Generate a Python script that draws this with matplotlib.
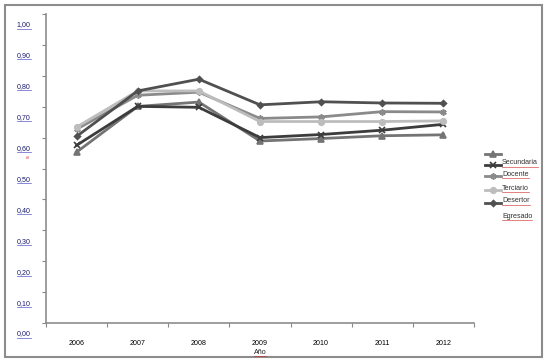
import matplotlib

matplotlib.use("Agg")
import matplotlib.pyplot as plt
import matplotlib.transforms as mtransforms
from matplotlib.lines import Line2D
from matplotlib.patches import Rectangle

plt.rcParams["font.family"] = ["Liberation Sans", "DejaVu Sans"]

years = ["2006", "2007", "2008", "2009", "2010", "2011", "2012"]
serie_blank = [0.553, 0.701, 0.715, 0.589, 0.597, 0.606, 0.609]
secundaria = [0.575, 0.701, 0.698, 0.600, 0.610, 0.624, 0.643]
docente = [0.627, 0.737, 0.747, 0.662, 0.667, 0.684, 0.683]
terciario = [0.634, 0.751, 0.751, 0.652, 0.652, 0.652, 0.654]
desertor = [0.604, 0.751, 0.789, 0.706, 0.716, 0.712, 0.711]
y_ticks = [0.0, 0.1, 0.2, 0.3, 0.4, 0.5, 0.6, 0.7, 0.8, 0.9, 1.0]
legend_labels = ["Secundaria", "Docente", "Terciario", "Desertor", "Egresado"]

# (values, color, marker, markersize)
SERIES = [
    (serie_blank, "#747474", "^", 4.5),
    (secundaria, "#3c3c3c", "x", 4.5),
    (docente, "#8a8a8a", (6, 2, 0), 4.5),
    (terciario, "#bdbdbd", "o", 4),
    (desertor, "#505050", "D", 3),
]
FS = 5.1

fig = plt.figure(figsize=(5.47, 3.62), dpi=100)
W, H = 547, 362
ax = fig.add_axes([46 / W, 1 - 323 / H, (474 - 46) / W, (323 - 14) / H])

x = list(range(len(years)))
for values, color, marker, ms in SERIES:
    ax.plot(x, values, color=color, lw=2.0, marker=marker, ms=ms, mfc=color, mec=color, mew=1.2)

ax.set_xlim(-0.5, len(years) - 0.5)
ax.set_ylim(0, 1.0)
ax.set_xticks([i - 0.5 for i in range(len(years) + 1)])
ax.set_xticklabels([])
ax.set_xticks(x, minor=True)
ax.set_xticklabels(years, minor=True, fontsize=FS)
ax.tick_params(axis="x", which="minor", length=0, pad=12)
ax.tick_params(axis="x", which="major", length=3, color="#888888", width=0.8)
ax.set_yticks(y_ticks)
ax.set_yticklabels([f"{v:.2f}".replace(".", ",") for v in y_ticks], fontsize=FS, color="#1c1c70")
ax.tick_params(axis="y", length=3, color="#888888", width=0.8, pad=8)
offset = mtransforms.ScaledTranslation(0, -10 / 100, fig.dpi_scale_trans)
for lab in ax.get_yticklabels():
    lab.set_transform(lab.get_transform() + offset)
for side in ("top", "right"):
    ax.spines[side].set_visible(False)
for side in ("left", "bottom"):
    ax.spines[side].set_color("#8c8c8c")
    ax.spines[side].set_linewidth(1.2)

fig.text(260 / W, 1 - 352 / H, "Año", fontsize=FS, ha="center", va="center", color="#222222")
fig.text(28 / W, 1 - 157 / H, "s", fontsize=4, rotation=90, ha="center", va="center", color="#d02020")

# legend drawn by hand to keep the original's offset labels
line_y = [154, 165, 176, 190, 203]
for (values, color, marker, ms), yy in zip(SERIES, line_y):
    fy = 1 - yy / H
    fig.add_artist(Line2D([485 / W, 493 / W, 501 / W], [fy, fy, fy], transform=fig.transFigure,
                          color=color, lw=2.0, marker=marker, ms=ms, mfc=color, mec=color,
                          mew=1.2, markevery=[1]))
label_y = [163, 174, 188, 201, 216]
texts = []
for lab, yy in zip(legend_labels, label_y):
    texts.append(fig.text(502 / W, 1 - yy / H, lab, fontsize=FS, ha="left", va="center", color="#333333"))

fig.add_artist(Rectangle((5 / W, 1 - 357 / H), 537 / W, 352 / H, transform=fig.transFigure,
                         fill=False, edgecolor="#8c8c8c", lw=1.5))

# spell-check style underlines
fig.canvas.draw()
renderer = fig.canvas.get_renderer()
inv = fig.transFigure.inverted()
for t, col in [(t, "#d02020") for t in texts] + [(fig.texts[0], "#d02020")] + [(t, "#3030c0") for t in ax.get_yticklabels()]:
    bb = t.get_window_extent(renderer)
    (x0, y0), (x1, _) = inv.transform([(bb.x0, bb.y0), (bb.x1, bb.y0)])
    fig.add_artist(Line2D([x0, x1], [y0, y0], transform=fig.transFigure, color=col, lw=0.5, alpha=0.8))

fig.savefig("out.png", dpi=100)
